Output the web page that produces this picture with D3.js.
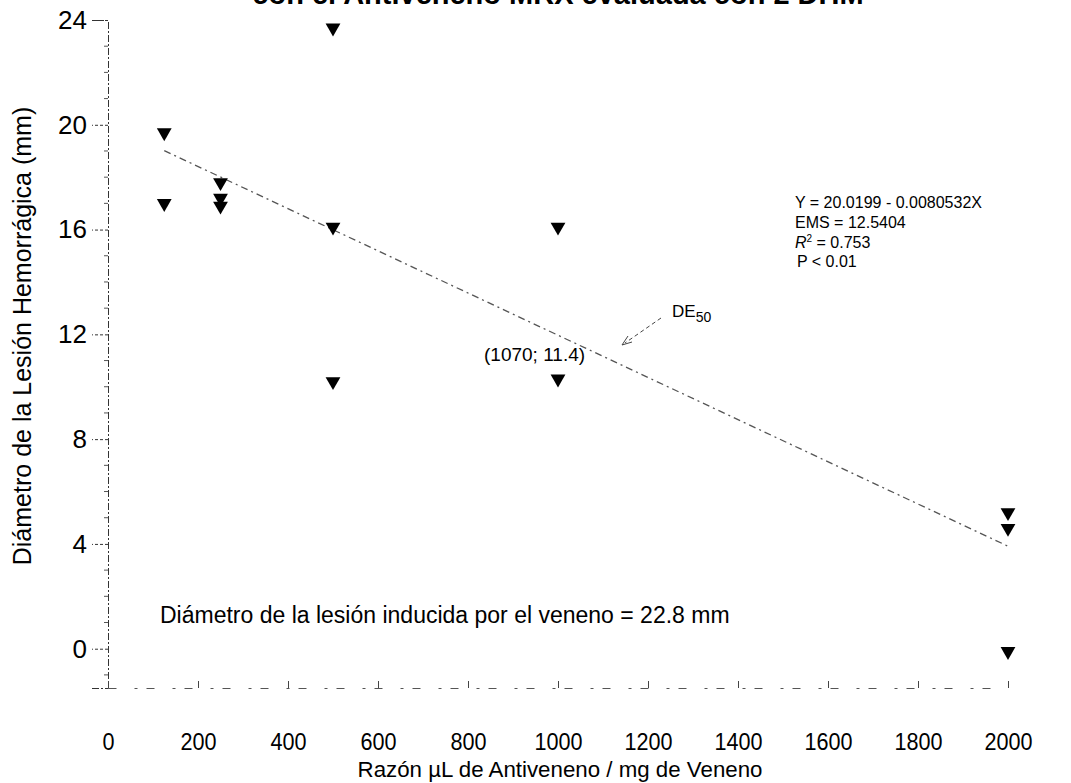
<!DOCTYPE html>
<html>
<head>
<meta charset="utf-8">
<script src="https://cdn.jsdelivr.net/npm/d3@7"></script>
<style>
  body { margin: 0; background: #fff; }
  svg { display: block; font-family: "Liberation Sans", Arial, sans-serif; }
</style>
</head>
<body>
<div id="chart"></div>
<script>
const width = 1071;
const height = 783;

// data
const doseValues = [125, 125, 250, 250, 250, 500, 500, 500, 1000, 1000, 2000, 2000, 2000];
const lesionValues = [19.7, 17.0, 17.8, 17.2, 16.9, 23.7, 16.1, 10.2, 16.1, 10.3, 5.2, 4.6, -0.1];
const xTicks = [0, 200, 400, 600, 800, 1000, 1200, 1400, 1600, 1800, 2000];
const yTicks = [0, 4, 8, 12, 16, 20, 24];
const fitIntercept = 20.0199;
const fitSlope = -0.0080532;
const fitRange = [125, 2000];
const statLines = ["Y = 20.0199 - 0.0080532X", "EMS = 12.5404", " = 0.753", "P < 0.01"];

const svg = d3.select("#chart").append("svg")
  .attr("width", width)
  .attr("height", height);

const x = d3.scaleLinear().domain([0, 2000]).range([108, 1008]);
const y = d3.scaleLinear().domain([-1.5, 24]).range([688, 20]);

// title, cut off at the top in the original
svg.append("text")
  .attr("x", 558)
  .attr("y", 4)
  .attr("text-anchor", "middle")
  .style("font-size", "29px")
  .style("font-weight", "bold")
  .text("con el Antiveneno MRX evaluada con 2 DHM");

// y axis
const yAxis = svg.append("g")
  .attr("transform", "translate(" + x(0) + ",0)")
  .call(d3.axisLeft(y).tickValues(yTicks).tickSize(16).tickPadding(5));
yAxis.select(".domain").attr("stroke", "#333").attr("stroke-dasharray", "7,2,2,2");
yAxis.selectAll(".tick line").attr("stroke", "#333").attr("stroke-dasharray", "3,2");
yAxis.selectAll("text").style("font-size", "26px").attr("fill", "#000");

// minor y ticks
svg.append("g").selectAll("line")
  .data(d3.range(-1, 24, 1).filter(v => v % 4 !== 0))
  .join("line")
  .attr("x1", x(0) - 4).attr("x2", x(0))
  .attr("y1", d => y(d)).attr("y2", d => y(d))
  .attr("stroke", "#555");

// x axis
const xAxis = svg.append("g")
  .attr("transform", "translate(0," + y(-1.5) + ")")
  .call(d3.axisBottom(x).tickValues(xTicks).tickFormat(d3.format("d"))
    .tickSizeInner(-7).tickSizeOuter(0).tickPadding(45));
xAxis.select(".domain").attr("stroke", "#555").attr("stroke-dasharray", "8,18,3,9");
xAxis.selectAll(".tick line").attr("stroke", "#444");
xAxis.selectAll("text")
  .style("font-size", "24px")
  .attr("transform", "scale(0.9,1)")
  .attr("fill", "#000");

// axis labels
svg.append("text")
  .attr("transform", "translate(560,777) scale(0.97,1)")
  .attr("text-anchor", "middle")
  .style("font-size", "23px")
  .text("Razón µL de Antiveneno / mg de Veneno");

svg.append("text")
  .attr("transform", "translate(31,336) rotate(-90)")
  .attr("text-anchor", "middle")
  .style("font-size", "25px")
  .text("Diámetro de la Lesión Hemorrágica (mm)");

// regression line
svg.append("line")
  .attr("x1", x(fitRange[0])).attr("y1", y(fitIntercept + fitSlope * fitRange[0]))
  .attr("x2", x(fitRange[1])).attr("y2", y(fitIntercept + fitSlope * fitRange[1]))
  .attr("stroke", "#555")
  .attr("stroke-width", 1.3)
  .attr("stroke-dasharray", "7,4,2,4");

// data points, filled down triangles
const tri = d3.symbol().type(d3.symbolTriangle).size(95);
svg.append("g").selectAll("path")
  .data(doseValues.map((d, i) => ({dose: d, lesion: lesionValues[i]})))
  .join("path")
  .attr("d", tri)
  .attr("transform", d => "translate(" + x(d.dose) + "," + y(d.lesion) + ") rotate(180)")
  .attr("fill", "#000");

// stats text
const stats = svg.append("g").style("font-size", "16px");
stats.append("text").attr("x", 795).attr("y", 208).text(statLines[0]);
stats.append("text").attr("x", 795).attr("y", 228).text(statLines[1]);
const r2 = stats.append("text").attr("x", 795).attr("y", 248);
r2.append("tspan").style("font-style", "italic").text("R");
r2.append("tspan").attr("dy", -6).style("font-size", "10px").text("2");
r2.append("tspan").attr("dy", 6).text(statLines[2]);
stats.append("text").attr("x", 797).attr("y", 267).text(statLines[3]);

// DE50 annotation
const de = svg.append("text").attr("x", 672).attr("y", 317).style("font-size", "17px");
de.append("tspan").text("DE");
de.append("tspan").attr("dy", 5).style("font-size", "14px").text("50");

svg.append("line")
  .attr("x1", 661).attr("y1", 318)
  .attr("x2", 625).attr("y2", 343)
  .attr("stroke", "#444")
  .attr("stroke-dasharray", "4,3");
svg.append("path")
  .attr("d", "M622,345 L628,336 M622,345 L632,342")
  .attr("stroke", "#444")
  .attr("fill", "none");

svg.append("text")
  .attr("x", 484)
  .attr("y", 361)
  .style("font-size", "19px")
  .text("(1070; 11.4)");

svg.append("text")
  .attr("x", 160)
  .attr("y", 623)
  .style("font-size", "23px")
  .text("Diámetro de la lesión inducida por el veneno = 22.8 mm");
</script>
</body>
</html>
